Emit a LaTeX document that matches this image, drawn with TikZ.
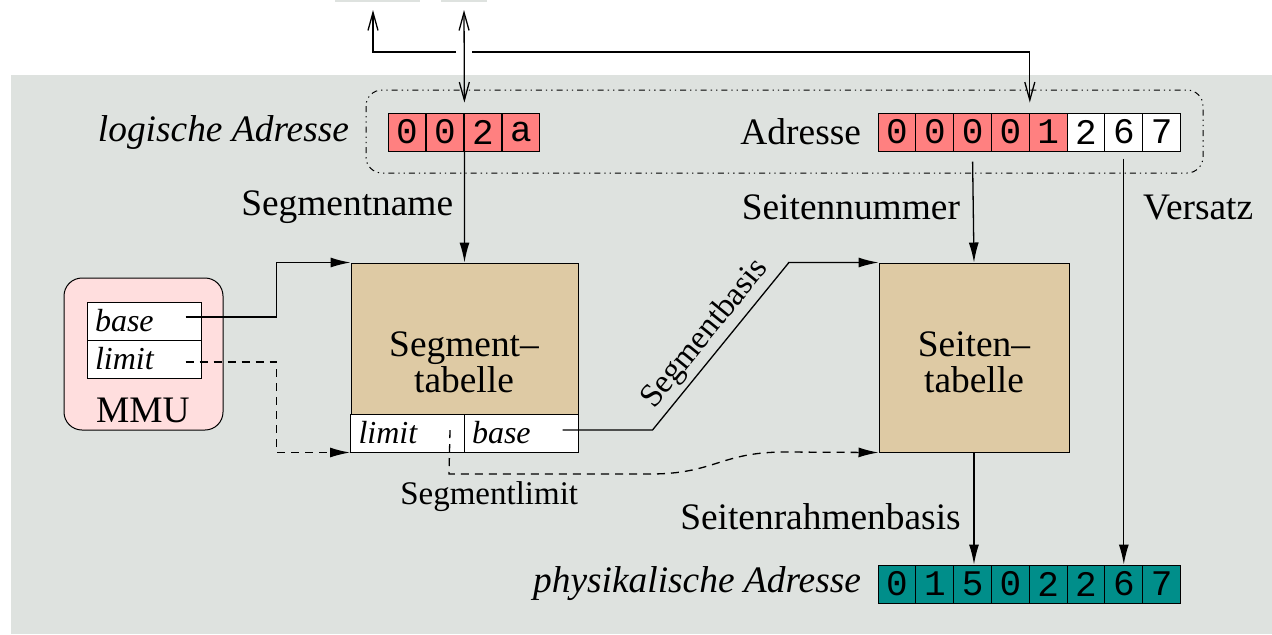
\documentclass[tikz,border=0pt]{standalone}
\usepackage{fontspec}
\setmainfont{Liberation Serif}
\newfontfamily\digitfont{Liberation Mono}
\usetikzlibrary{arrows.meta}

\definecolor{bggray}{RGB}{222,226,223}
\definecolor{adrred}{RGB}{255,128,128}
\definecolor{tabbrown}{RGB}{222,202,164}
\definecolor{mmupink}{RGB}{255,222,222}
\definecolor{physteal}{RGB}{0,142,138}

\tikzset{
  cell/.style={draw, line width=0.5pt, minimum width=18.9pt, minimum height=19pt, inner sep=0pt,
    font=\digitfont\fontsize{18}{18}\selectfont},
  regcell/.style={draw, line width=0.5pt, fill=white, minimum height=19pt, text width=49pt,
    inner xsep=4pt, inner ysep=0pt, align=left, font=\fontsize{16}{16}\selectfont\itshape},
  table/.style={draw, line width=0.5pt, fill=tabbrown, inner sep=0pt},
  small/.style={font=\fontsize{16.5}{18}\selectfont},
  tip/.style={-{Latex[length=10pt,width=5pt]}},
  barb/.style={-{Straight Barb[length=9pt,width=5pt]}},
  longdash/.style={dash pattern=on 4pt off 3pt}
}

\begin{document}
\begin{tikzpicture}[x=0.5pt,y=-0.5pt,font=\fontsize{18.7}{18}\selectfont,line width=0.65pt]
  \useasboundingbox (0,0) rectangle (1272,634);
  \fill[bggray] (11,75) rectangle (1272,634);
  \fill[bggray] (335,0) rectangle (420,2);
  \fill[bggray] (441,0) rectangle (487,2);

  % addresses
  \foreach \i/\c in {0/0,1/0,2/2,3/a}{
    \node[cell,fill=adrred] (la\i) at ({407+38*\i},132) {\c};  }
  \foreach \i/\c in {0/0,1/0,2/0,3/0,4/1}{
    \node[cell,fill=adrred] (ad\i) at ({897+37.8*\i},132) {\c};  }
  \foreach \i/\c in {5/2,6/6,7/7}{
    \node[cell,fill=white] (ad\i) at ({897+37.8*\i},132) {\c};  }
  \foreach \i/\c in {0/0,1/1,2/5,3/0,4/2,5/2,6/6,7/7}{
    \node[cell,fill=physteal] (pa\i) at ({897+37.8*\i},584) {\c};  }
  \node[anchor=east,inner sep=0pt] (loglabel) at ([xshift=-19pt]la0.west) {\itshape logische Adresse};
  \node[anchor=east,inner sep=0pt] (adrlabel) at ([xshift=-8pt]ad0.west) {Adresse};
  \node[anchor=east,inner sep=0pt] (physlabel) at ([xshift=-8pt]pa0.west) {\itshape physikalische Adresse};
  \draw[dash dot dot,line width=0.5pt,rounded corners=8pt] (366,90) rectangle (1203,173);

  % tables
  \node[table,minimum width=113.5pt,minimum height=94.5pt] (segtab) at (464.5,357.5) {};
  \node[regcell] (stlimit) at (407.5,433) {limit};
  \node[regcell] (stbase) at (521,433) {base};
  \node[align=center] (segtxt) at (464,362) {Segment--\\tabelle};
  \node[table,minimum width=95pt,minimum height=94.5pt] (pagetab) at (974,357.5) {};
  \node[align=center] (pagetxt) at (974,362) {Seiten--\\tabelle};

  % MMU
  \node[draw,line width=0.5pt,fill=mmupink,rounded corners=9pt,minimum width=79.5pt,minimum height=76pt] (mmu) at (143.5,354) {};
  \node[regcell] (mmubase) at (144,321) {base};
  \node[regcell] (mmulimit) at (144,359) {limit};
  \node (mmutxt) at (143,410) {MMU};

  % external connections
  \coordinate (outa) at (373,10);
  \coordinate (outb) at (464,10);
  \draw[barb] (456,52) -| (outa);
  \draw[barb] (472,52) -| ([yshift=5pt]ad3.north east);
  \draw[{Straight Barb[length=9pt,width=5pt]}-{Straight Barb[length=9pt,width=5pt]}] (outb) -- ([yshift=5pt]la1.north east);

  \draw[tip] (la1.south east) -- node[left,xshift=-2pt] {Segmentname} (segtab.north);
  \draw[tip] ([yshift=-5pt]ad2.south) -- node[left,xshift=-3pt,pos=0.45] {Seitennummer} (pagetab.north);
  \draw[tip] ([yshift=-3.5pt]ad6.south) -- node[pos=0.12,right,xshift=6pt] {Versatz} (pa6.north);
  \draw[tip] (pagetab.south) -- node[left,xshift=-3pt,pos=0.57] {Seitenrahmenbasis} (pagetab.south |- pa2.north);

  \draw[tip] ([xshift=-8pt,yshift=2pt]mmubase.east) -- ++(91,0) |- (segtab.north west);
  \draw[tip,longdash] ([xshift=-8pt,yshift=-1.5pt]mmulimit.east) -- ++(91,0) |- (stlimit.south west);
  \draw[tip] ([xshift=-8pt,yshift=1.5pt]stbase.east) -- ++(90,0) -- node[sloped,above,small,inner sep=2pt] {Segmentbasis} ++(136,-167) |- (pagetab.north west);
  \draw[tip,longdash] ([xshift=-7.5pt,yshift=1.5pt]stlimit.east) -- (449,474) -- node[below,pos=0.2,small] {Segmentlimit} (650,474)
    .. controls (715,474) and (720,452) .. (785,452) -- (pagetab.south west);
\end{tikzpicture}
\end{document}
